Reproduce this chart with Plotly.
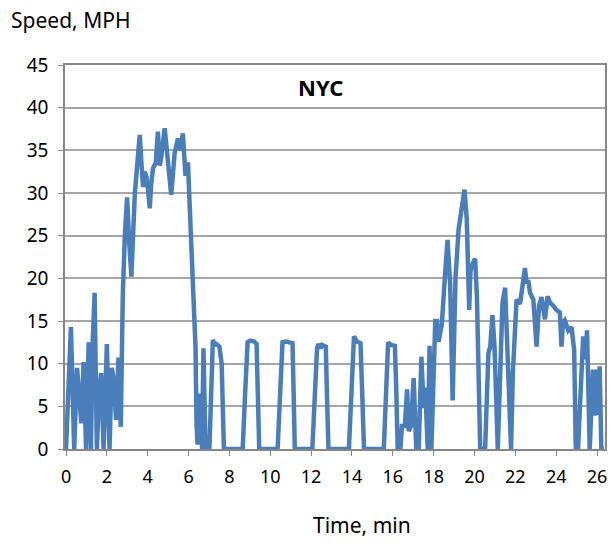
import plotly.graph_objects as go

# Time (min) and speed (MPH)
time_min = [
    0.00, 0.07, 0.24, 0.32, 0.40, 0.54, 0.65, 0.75, 0.86, 0.98, 1.11, 1.22, 1.30, 1.40, 1.51,
    1.62, 1.72, 1.84, 2.00, 2.13, 2.24, 2.36, 2.45, 2.57, 2.68, 2.78, 2.88, 2.99, 3.10, 3.20,
    3.37, 3.49, 3.61, 3.68, 3.77, 3.85, 3.94, 4.01, 4.10, 4.17, 4.26, 4.39, 4.50, 4.59, 4.68,
    4.83, 4.99, 5.15, 5.32, 5.48, 5.59, 5.72, 5.85, 5.97, 6.13, 6.24, 6.34, 6.39, 6.44, 6.51,
    6.56, 6.61, 6.66, 6.73, 6.83, 7.02, 7.19, 7.27, 7.37, 7.51, 7.62, 7.73,
    8.65, 8.76, 8.89, 9.02, 9.22, 9.33, 9.40, 9.46,
    10.36, 10.46, 10.60, 10.78, 11.09, 11.15, 11.20,
    12.06, 12.17, 12.29, 12.36, 12.46, 12.54, 12.72, 12.78, 12.85,
    13.85, 13.98, 14.10, 14.24, 14.42, 14.51, 14.59,
    15.56, 15.66, 15.77, 15.90, 16.10, 16.17, 16.24, 16.37, 16.45, 16.59, 16.70, 16.78, 16.89,
    17.02, 17.15, 17.27, 17.40, 17.51, 17.59, 17.71, 17.80, 17.89, 17.95, 18.08, 18.16, 18.24,
    18.40, 18.49, 18.54, 18.68, 18.81, 18.93, 19.07, 19.22, 19.38, 19.51, 19.62, 19.71, 19.74,
    19.80, 19.87, 20.03, 20.12, 20.28, 20.52, 20.68, 20.77, 20.88, 20.98, 21.14, 21.25, 21.37,
    21.50, 21.62, 21.71, 21.79, 21.88, 21.98, 22.06, 22.23, 22.34, 22.47, 22.55, 22.63, 22.72,
    22.88, 23.04, 23.16, 23.28, 23.45, 23.58, 23.69, 23.85, 24.01, 24.18, 24.26, 24.34, 24.42,
    24.59, 24.75, 24.88, 24.96, 25.07, 25.23, 25.32, 25.43, 25.51, 25.64, 25.80, 25.91, 25.96,
    26.05, 26.13, 26.21, 26.34,
]
speed_mph = [
    0.0, 4.4, 14.3, 7.3, 0.0, 9.5, 6.6, 3.0, 10.2, 0.0, 12.5, 0.0, 12.1, 18.3, 0.0,
    6.6, 8.9, 0.0, 12.3, 0.0, 9.5, 7.7, 3.4, 10.7, 2.6, 18.1, 25.0, 29.5, 24.0, 20.2,
    30.0, 33.0, 36.8, 34.0, 30.7, 32.5, 31.9, 30.5, 28.2, 31.0, 32.9, 33.5, 37.2, 33.2, 34.5,
    37.6, 33.6, 29.8, 34.7, 36.4, 35.0, 37.0, 32.0, 33.6, 24.1, 18.0, 12.0, 3.0, 0.5, 6.5,
    1.0, 5.0, 0.0, 11.8, 0.0, 0.0, 12.8, 12.2, 12.3, 12.0, 10.0, 0.0,
    0.0, 6.0, 12.5, 12.7, 12.6, 12.3, 6.0, 0.0,
    0.0, 6.0, 12.5, 12.6, 12.4, 6.0, 0.0,
    0.0, 6.0, 11.8, 12.3, 11.8, 12.2, 12.0, 6.0, 0.0,
    0.0, 6.5, 13.2, 12.6, 12.4, 6.0, 0.0,
    0.0, 6.0, 12.5, 12.2, 12.1, 7.0, 0.0, 0.0, 2.7, 2.7, 7.0, 2.1, 2.7,
    8.3, 0.0, 0.0, 10.8, 4.8, 7.2, 0.0, 12.1, 0.0, 6.0, 15.0, 15.0, 12.6,
    14.6, 17.0, 19.8, 24.5, 19.2, 5.7, 20.0, 25.7, 28.0, 30.4, 27.0, 21.0, 16.3,
    20.8, 21.5, 22.3, 17.8, 0.0, 0.0, 11.2, 12.0, 15.7, 12.0, 0.0, 8.9, 17.1,
    18.9, 12.0, 7.7, 0.0, 9.0, 14.8, 17.5, 17.0, 19.4, 21.2, 19.4, 19.8, 18.3,
    17.5, 12.0, 16.8, 17.8, 15.2, 17.9, 17.2, 16.8, 16.3, 16.0, 12.0, 14.9, 15.1,
    13.9, 14.3, 11.6, 0.0, 0.0, 7.7, 13.2, 10.5, 13.9, 0.0, 9.3, 3.9, 9.3,
    4.0, 9.7, 0.0, 0.0,
]
x_ticks = list(range(0, 27, 2))
y_ticks = list(range(0, 46, 5))

FONT = "Noto Sans"
GRID = "#a6a6a6"
AXIS = "#868686"

fig = go.Figure()
fig.add_trace(go.Scatter(
    x=time_min, y=speed_mph, mode="lines",
    line=dict(color="#4a7ebb", width=4.5),
    hoverinfo="skip", showlegend=False,
))

fig.update_layout(
    width=613, height=544,
    margin=dict(l=65, r=6, t=65, b=95),
    paper_bgcolor="white", plot_bgcolor="white",
    font=dict(family=FONT, size=18, color="black"),
    xaxis=dict(
        range=[-0.05, 26.39], tickvals=x_ticks, ticktext=[str(v) for v in x_ticks],
        showgrid=False, zeroline=False,
        showline=True, linecolor=AXIS, linewidth=1.5, mirror=True,
        ticks="outside", ticklen=5, tickcolor=AXIS,
        tickfont=dict(family=FONT, size=18), ticklabelstandoff=6,
    ),
    yaxis=dict(
        range=[0, 45], tickvals=y_ticks,
        showgrid=True, gridcolor=GRID, gridwidth=1.5, zeroline=False,
        showline=True, linecolor=AXIS, linewidth=1.5, mirror=True,
        ticks="outside", ticklen=5, tickcolor=AXIS,
        tickfont=dict(family=FONT, size=19), ticklabelstandoff=6,
    ),
    annotations=[
        dict(text="<b>NYC</b>", xref="paper", yref="paper", x=0.474, y=0.943,
             showarrow=False, font=dict(family=FONT, size=22, color="black"),
             xanchor="center", yanchor="middle"),
        dict(text="Speed, MPH", xref="paper", yref="paper", x=-0.103, y=1.117,
             showarrow=False, font=dict(family=FONT, size=21, color="black"),
             xanchor="left", yanchor="middle"),
        dict(text="Time, min", xref="paper", yref="paper", x=0.55, y=-0.198,
             showarrow=False, font=dict(family=FONT, size=21, color="black"),
             xanchor="center", yanchor="middle"),
    ],
)

fig.write_html(
    "out.html",
    config={"displayModeBar": False},
    post_script="document.body.style.margin='0';document.body.style.overflow='hidden';",
)
